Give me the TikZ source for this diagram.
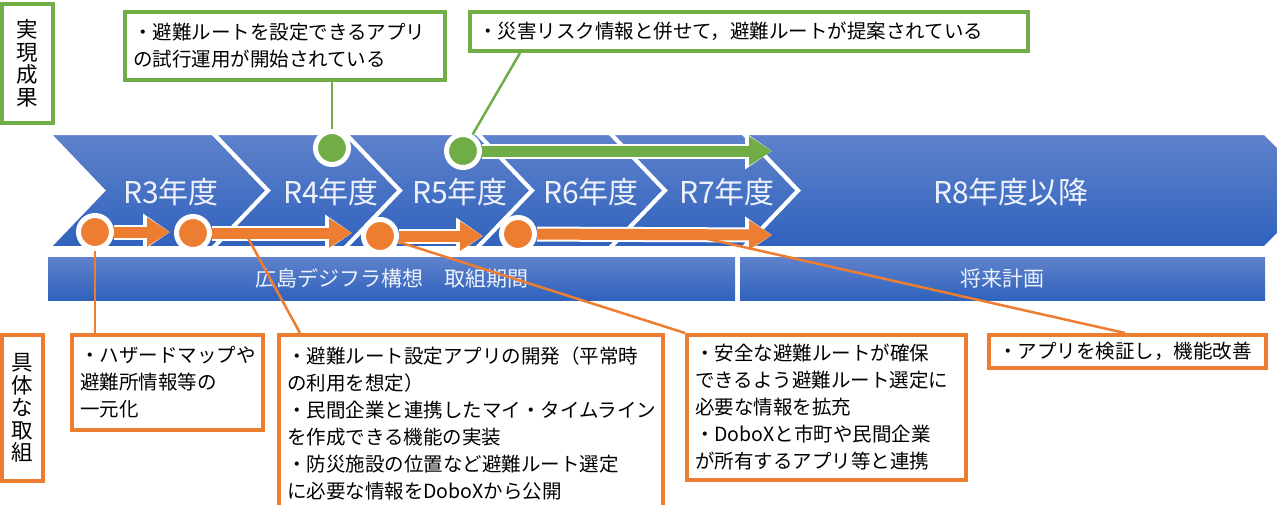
\documentclass[tikz,border=0pt]{standalone}
\usepackage{fontspec}
\setmainfont{Noto Sans CJK JP}
\usetikzlibrary{arrows.meta,calc}
\definecolor{gr}{HTML}{70AD47}
\definecolor{ora}{HTML}{ED7D31}
\definecolor{bltop}{HTML}{5F82CB}
\definecolor{blbot}{HTML}{2F62BD}
\definecolor{lbl}{HTML}{EEF2FA}
\begin{document}
\begin{tikzpicture}[
        x=1pt, y=-1pt,
        line join=miter
    ]
    \tikzset{
        chev/.style = {draw=white, line width=4, top color=bltop, bottom color=blbot},
        bar/.style = {rectangle, anchor=north west, inner sep=0, top color=bltop, bottom color=blbot,
                      text=lbl, font=\fontsize{21}{24}\selectfont},
        yearlbl/.style = {text=lbl, font=\fontsize{30}{33}\selectfont},
        gbox/.style = {draw=gr, line width=4, fill=white, anchor=north west, align=left,
                       inner xsep=8, inner ysep=0, font=\fontsize{19.5}{27}\selectfont},
        obox/.style = {gbox, draw=ora},
        vbox/.style = {draw=gr, line width=4, fill=white, anchor=north west, align=center,
                       inner sep=0, font=\fontsize{21.5}{22.5}\selectfont},
        dotor/.style = {circle, fill=ora, draw=white, line width=5, minimum size=33, inner sep=0},
        dotgr/.style = {dotor, fill=gr},
        orarrow/.style = {draw=ora, line width=11, -{Triangle[length=23pt,width=28pt]},
                          preaction={draw=white, line width=15, -{Triangle[length=27pt,width=35pt]}}},
        grarrow/.style = {orarrow, draw=gr},
        olink/.style = {draw=ora, line width=2.5},
        glink/.style = {draw=gr, line width=2.5},
    }
        \useasboundingbox (0,0) rectangle (1277,504);
        \clip (0,0) rectangle (1277,504);
        % year band
        \path[chev] (743,133) -- (1265,133) -- (1322,190.5) -- (1265,248) -- (743,248) -- (798,190.5) -- cycle;
        \path[chev] (48,133) -- (213,133) -- (268,190.5) -- (213,248) -- (48,248) -- (103,190.5) -- cycle;
        \path[chev] (213,133) -- (345,133) -- (400,190.5) -- (345,248) -- (213,248) -- (268,190.5) -- cycle;
        \path[chev] (345,133) -- (477,133) -- (532,190.5) -- (477,248) -- (345,248) -- (400,190.5) -- cycle;
        \path[chev] (477,133) -- (610,133) -- (665,190.5) -- (610,248) -- (477,248) -- (532,190.5) -- cycle;
        \path[chev] (610,133) -- (743,133) -- (798,190.5) -- (743,248) -- (610,248) -- (665,190.5) -- cycle;
        \node[yearlbl] (r3) at (171,192) {R3年度};
        \node[yearlbl] (r4) at (331,192) {R4年度};
        \node[yearlbl] (r5) at (460,192) {R5年度};
        \node[yearlbl] (r6) at (591,192) {R6年度};
        \node[yearlbl] (r7) at (727,192) {R7年度};
        \node[yearlbl] (r8) at (1011,192) {R8年度以降};
        %
        \node[bar, minimum width=687, minimum height=43] (bar1) at (48,257) {広島デジフラ構想　取組期間};
        \node[bar, minimum width=525, minimum height=43] (bar2) at (740,257) {将来計画};
        %
        \node[dotor] at (95,232) (o1) {};
        \node[dotor] at (193,233) (o2) {};
        \node[dotor] at (380,236) (o3) {};
        \node[dotor] at (518,234) (o4) {};
        \node[dotgr] at (332,148) (g1) {};
        \node[dotgr] at (463,151) (g2) {};
        \coordinate (a1e) at (170,232);
        \coordinate (a2e) at (352,233);
        \coordinate (a3e) at (483,236);
        \coordinate (a4e) at (772,235);
        \coordinate (g2e) at (772,151);
        \draw[orarrow] (o1) -- (a1e);
        \draw[orarrow] (o2) -- (a2e);
        \draw[orarrow] (o3) -- (a3e);
        \draw[orarrow] (o4) -- (a4e);
        \draw[grarrow] (g2) -- (g2e);
        %
        \node[vbox, minimum width=51, minimum height=119] (res) at (0,2) {実\\現\\成\\果};
        \node[vbox, draw=ora, minimum width=41, minimum height=146] (act) at (0,333) {具\\体\\な\\取\\組};
        %
        \node[gbox, text width=304, minimum height=68] (box1) at (123,10)
            {・避難ルートを設定できるアプリ\\の試行運用が開始されている};
        \node[gbox, text width=542, minimum height=39] (box2) at (468,10)
            {・災害リスク情報と併せて，避難ルートが提案されている};
        \node[obox, text width=175, minimum height=95] (boxa) at (70,333)
            {・ハザードマップや\\避難所情報等の\\一元化};
        \node[obox, text width=368, minimum height=177] (boxb) at (277,333)
            {・避難ルート設定アプリの開発（平常時\\の利用を想定）\\・民間企業と連携したマイ・タイムライン\\を作成できる機能の実装\\・防災施設の位置など避難ルート選定\\に必要な情報をDoboXから公開};
        \node[obox, text width=263, minimum height=145] (boxc) at (685,333)
            {・安全な避難ルートが確保\\できるよう避難ルート選定に\\必要な情報を拡充\\・DoboXと市町や民間企業\\が所有するアプリ等と連携};
        \node[obox, inner xsep=9, text width=259, minimum height=33] (boxd) at (987,333)
            {・アプリを検証し，機能改善};
        %
        \coordinate (g2p) at ($(box2.south west)+(52,0)$);
        \coordinate (a2p) at (248,238);
        \coordinate (a4p) at (708,239);
        \draw[glink] (g1) -- (g1 |- box1.south);
        \draw[glink] (g2p) -- (g2);
        \draw[olink] (o1) -- (o1 |- boxa.north);
        \draw[olink] (a2p) -- ($(boxb.north west)+(23,0)$);
        \draw[olink] (o3) -- (boxc.north west);
        \draw[olink] (a4p) -- ($(boxd.north west)+(138,0)$);
    \end{tikzpicture}
\end{document}
